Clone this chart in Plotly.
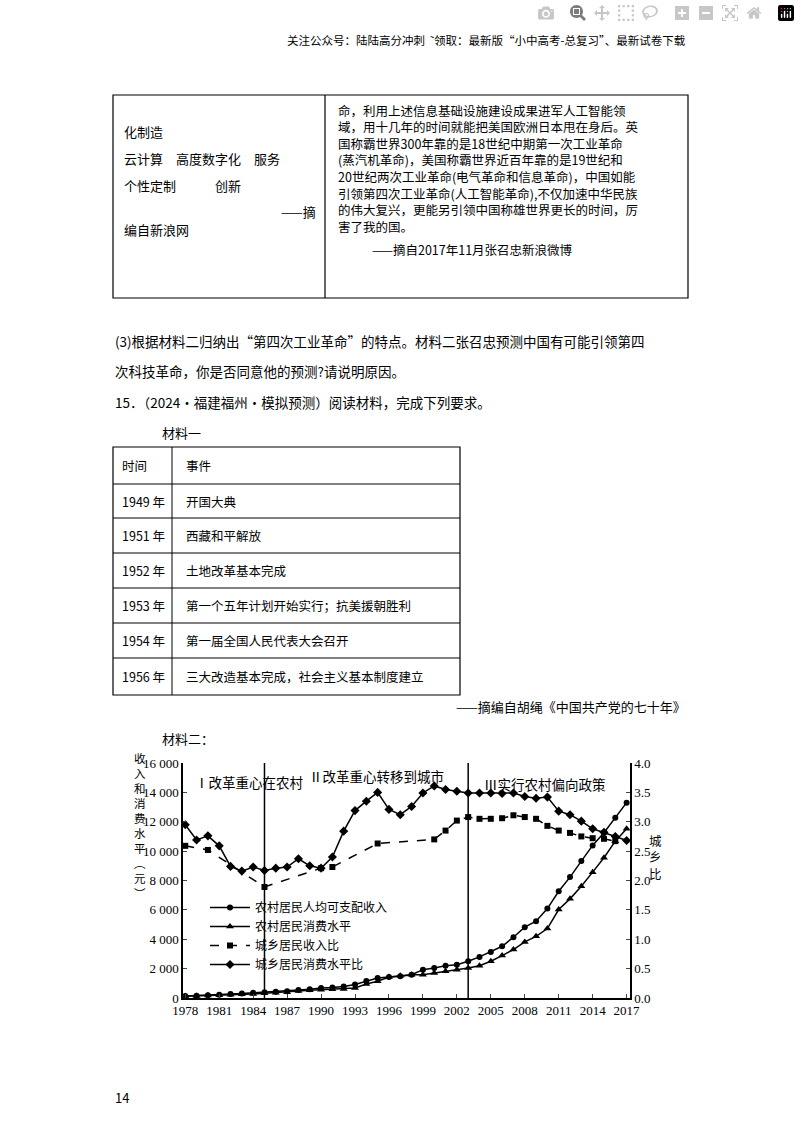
import plotly.graph_objects as go

years = list(range(1978, 2018))
rural_income = [134,160,191,223,270,310,355,398,424,463,545,602,686,709,784,922,1150,1360,1430,1480,1590,1930,2045,2200,2270,2500,2800,3140,3520,4140,4820,5230,6090,7270,8230,9320,10390,11250,12270,13300]
rural_consume = [116,135,162,190,220,248,273,317,357,398,476,535,570,590,610,680,950,1140,1430,1520,1590,1590,1700,1820,1930,2045,2200,2500,2890,3300,3820,4200,4730,6020,6750,7610,8570,9550,10680,11520]
income_ratio_years = [1978,1980,1985,1990,1991,1995,2000,2001,2002,2003,2004,2005,2006,2007,2008,2009,2010,2011,2012,2013,2014,2015,2016]
income_ratio = [2.59,2.52,1.89,2.21,2.23,2.63,2.70,2.85,3.02,3.08,3.05,3.05,3.06,3.11,3.08,3.05,2.93,2.85,2.81,2.75,2.72,2.71,2.67]
consume_ratio = [2.95,2.69,2.76,2.59,2.24,2.16,2.23,2.17,2.21,2.23,2.37,2.25,2.21,2.40,2.84,3.19,3.35,3.50,3.21,3.12,3.26,3.49,3.61,3.55,3.52,3.49,3.49,3.49,3.48,3.49,3.43,3.40,3.42,3.18,3.12,3.01,2.88,2.82,2.75,2.68]
xtick_years = [1978,1981,1984,1987,1990,1993,1996,1999,2002,2005,2008,2011,2014,2017]
left_ticks = [0,2000,4000,6000,8000,10000,12000,14000,16000]
left_labels = ["0","2 000","4 000","6 000","8 000","10 000","12 000","14 000","16 000"]
right_ticks = [0,0.5,1,1.5,2,2.5,3,3.5,4]
names = ["农村居民人均可支配收入","农村居民消费水平","城乡居民收入比","城乡居民消费水平比"]

F = "Noto Sans CJK SC"
W, H = 800, 1132
def px(x): return x / W
def py(y): return 1 - y / H

fig = go.Figure()
fig.add_trace(go.Scatter(x=years, y=rural_income, name=names[0], mode="lines+markers",
    line=dict(color="black", width=1.5), marker=dict(symbol="circle", size=6, color="black")))
fig.add_trace(go.Scatter(x=years, y=rural_consume, name=names[1], mode="lines+markers",
    line=dict(color="black", width=1.5), marker=dict(symbol="triangle-up", size=7, color="black")))
fig.add_trace(go.Scatter(x=income_ratio_years, y=income_ratio, name=names[2], mode="lines+markers", yaxis="y2",
    line=dict(color="black", width=1.5, dash="dash"), marker=dict(symbol="square", size=6, color="black")))
fig.add_trace(go.Scatter(x=years, y=consume_ratio, name=names[3], mode="lines+markers", yaxis="y2",
    line=dict(color="black", width=1.5), marker=dict(symbol="diamond", size=7, color="black")))

shapes = []
ann = []
def text(x, y, t, size=13, xanchor="left", color="black"):
    ann.append(dict(x=px(x), y=py(y), xref="paper", yref="paper", text=t, showarrow=False,
                    xanchor=xanchor, yanchor="middle", font=dict(family=F, size=size, color=color)))
def rect(x0, y0, x1, y1):
    shapes.append(dict(type="rect", xref="paper", yref="paper", x0=px(x0), x1=px(x1), y0=py(y0), y1=py(y1),
                       line=dict(color="black", width=1.2)))
def line(x0, y0, x1, y1, w=1):
    shapes.append(dict(type="line", xref="paper", yref="paper", x0=px(x0), x1=px(x1), y0=py(y0), y1=py(y1),
                       line=dict(color="black", width=w)))

text(688, 40, "关注公众号：陆陆高分冲刺  ˜领取：最新版“小中高考-总复习”、最新试卷下载", 11.5, "right")
rect(113, 95, 688, 298); line(325, 95, 325, 298, 1.2)
text(122, 132, "化制造"); text(122, 158, "云计算　高度数字化　服务"); text(122, 185, "个性定制　　　创新")
text(318, 211, "——摘", 13, "right"); text(122, 229, "编自新浪网")
right_lines = ["命，利用上述信息基础设施建设成果进军人工智能领",
    "域，用十几年的时间就能把美国欧洲日本甩在身后。英",
    "国称霸世界300年靠的是18世纪中期第一次工业革命",
    "(蒸汽机革命)，美国称霸世界近百年靠的是19世纪和",
    "20世纪两次工业革命(电气革命和信息革命)，中国如能",
    "引领第四次工业革命(人工智能革命),不仅加速中华民族",
    "的伟大复兴，更能另引领中国称雄世界更长的时间，厉",
    "害了我的国。"]
for i, t in enumerate(right_lines):
    text(336, 110 + i * 16.6, t, 12.5)
text(370, 249, "——摘自2017年11月张召忠新浪微博", 12.5)
text(113, 341, "(3)根据材料二归纳出“第四次工业革命”的特点。材料二张召忠预测中国有可能引领第四", 13.5)
text(113, 371, "次科技革命，你是否同意他的预测?请说明原因。", 13.5)
text(113, 402, "15．（2024·福建福州·模拟预测）阅读材料，完成下列要求。", 13.5)
text(160, 432, "材料一")
rows = [("时间", "事件"), ("1949 年", "开国大典"), ("1951 年", "西藏和平解放"), ("1952 年", "土地改革基本完成"),
        ("1953 年", "第一个五年计划开始实行；抗美援朝胜利"), ("1954 年", "第一届全国人民代表大会召开"),
        ("1956 年", "三大改造基本完成，社会主义基本制度建立")]
bounds = [447, 484, 518, 553, 588, 623, 658, 695]
rect(113, 447, 460, 695); line(172, 447, 172, 695)
for b in bounds[1:-1]:
    line(113, b, 460, b)
for i, (a, b) in enumerate(rows):
    yc = (bounds[i] + bounds[i + 1]) / 2
    text(120, yc, a, 12.5); text(184, yc, b, 12.5)
text(688, 706, "——摘编自胡绳《中国共产党的七十年》", 13, "right")
text(160, 738, "材料二：")
text(113, 1097, "14", 13)
text(193, 782, "Ⅰ改革重心在农村", 13.5)
text(307, 776, "Ⅱ改革重心转移到城市", 13.5)
text(482, 784, "Ⅲ实行农村偏向政策", 13.5)
ann.append(dict(x=px(132), y=py(903), xref="paper", yref="paper", showarrow=False,
                text="<br>".join(list("收入和消费水平")) + "<br>︵<br>元<br>︶",
                font=dict(family=F, size=11.5), align="center"))
ann.append(dict(x=px(664), y=py(885), xref="paper", yref="paper", showarrow=False,
                text="城<br>乡<br>比", font=dict(family=F, size=12.5)))
for xv in [1985, 2003]:
    shapes.append(dict(type="line", xref="x", yref="paper", x0=xv, x1=xv, y0=py(998), y1=py(763),
                       line=dict(color="black", width=1.5)))

axis_common = dict(showline=True, linecolor="black", linewidth=1.5, ticks="inside", ticklen=4,
                   showgrid=False, zeroline=False, automargin=False,
                   tickfont=dict(family="Liberation Serif", size=13))
fig.update_layout(
    width=W, height=H, margin=dict(l=0, r=0, t=0, b=0, pad=0, autoexpand=False),
    paper_bgcolor="white", plot_bgcolor="white",
    showlegend=True, font=dict(family=F, color="black"),
    legend=dict(x=px(205), y=py(893), xanchor="left", yanchor="top", bgcolor="rgba(0,0,0,0)",
                font=dict(family=F, size=12), tracegroupgap=0, itemwidth=40),
    xaxis=dict(domain=[px(183), px(630)], range=[1977.8, 2017.3], tickvals=xtick_years, **axis_common),
    yaxis=dict(domain=[py(998), py(763)], range=[0, 16000], tickvals=left_ticks, ticktext=left_labels, **axis_common),
    yaxis2=dict(overlaying="y", side="right", range=[0, 4], tickvals=right_ticks, tickformat=".1f", **axis_common),
    shapes=shapes, annotations=ann,
)
fig.write_html("out.html", post_script="document.body.style.margin='0';document.body.style.overflow='hidden';")
